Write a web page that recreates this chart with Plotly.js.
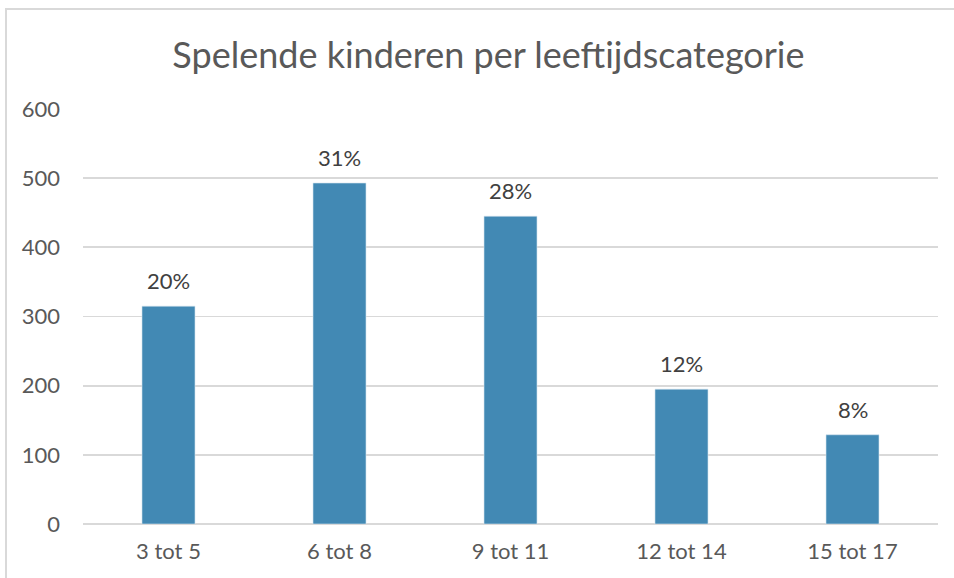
<!DOCTYPE html>
<html>
<head>
<meta charset="utf-8">
<script src="https://cdn.plot.ly/plotly-3.0.1.min.js"></script>
<style>
  body { margin: 0; background: #fff; }
  #chart { position: absolute; left: 0; top: 0; width: 954px; height: 578px; }
  #rand { position: absolute; left: 5px; top: 8px; width: 960px; height: 600px;
          border: 2px solid #d9d9d9; pointer-events: none; z-index: 10; }
</style>
</head>
<body>
<div id="chart"></div>
<div id="rand"></div>
<script>
"use strict";

var categorieen = ['3 tot 5', '6 tot 8', '9 tot 11', '12 tot 14', '15 tot 17'];
var aantallen = [315, 493, 445, 195, 129];
var percentages = ['20%', '31%', '28%', '12%', '8%'];
var yTicks = [0, 100, 200, 300, 400, 500, 600];

var font = "Lato, 'Open Sans', sans-serif";

var trace = {
  type: 'bar',
  x: categorieen,
  y: aantallen,
  marker: { color: '#4289b4', line: { color: '#d6e6f0', width: 0.6 } },
  hoverinfo: 'none'
};

// labels boven de staven
var labels = categorieen.map(function (c, i) {
  return {
    x: c, y: aantallen[i], text: percentages[i],
    xref: 'x', yref: 'y', showarrow: false,
    yanchor: 'bottom', yshift: 10,
    font: { family: font, size: 22, color: '#404040' }
  };
});

var layout = {
  width: 954,
  height: 578,
  margin: { l: 83, r: 16, t: 109, b: 54 },
  paper_bgcolor: '#fff',
  plot_bgcolor: '#fff',
  showlegend: false,
  bargap: 0.69,
  font: { family: font, color: '#595959' },
  title: {
    text: 'Spelende kinderen per leeftijdscategorie',
    font: { family: font, size: 36, color: '#595959' },
    x: 0.512, xanchor: 'center',
    y: 0.905, yanchor: 'middle'
  },
  xaxis: {
    type: 'category',
    showgrid: false,
    zeroline: false,
    showline: false,
    ticks: '',
    ticklabelstandoff: 12,
    tickfont: { family: font, size: 22, color: '#595959' }
  },
  yaxis: {
    range: [0, 600],
    tickvals: yTicks,
    ticktext: yTicks.map(String),
    showgrid: true,
    gridcolor: '#d9d9d9',
    gridwidth: 1.8,
    zeroline: true,
    zerolinecolor: '#d9d9d9',
    zerolinewidth: 1.8,
    showline: false,
    ticks: '',
    ticklabelstandoff: 22,
    tickfont: { family: font, size: 22, color: '#595959' }
  },
  annotations: labels
};

Plotly.newPlot('chart', [trace], layout, { displayModeBar: false, staticPlot: true });
</script>
</body>
</html>
